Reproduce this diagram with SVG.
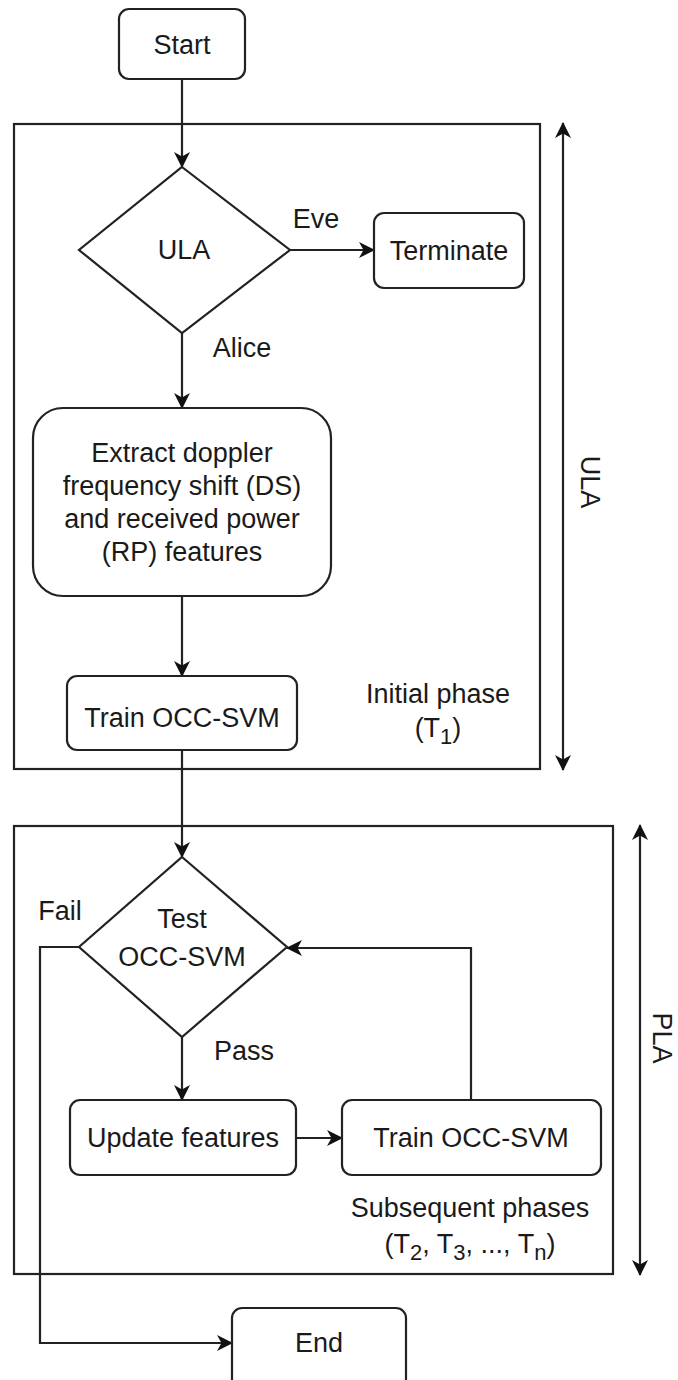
<svg xmlns="http://www.w3.org/2000/svg" width="678" height="1380" viewBox="0 0 678 1380">
  <defs>
    <marker id="arrow" viewBox="0 0 16 16" refX="15" refY="8" markerWidth="16" markerHeight="16" markerUnits="userSpaceOnUse" orient="auto-start-reverse">
      <path d="M0,0 L16,8 L0,16 L4.5,8 z" fill="#111"/>
    </marker>
    <style>
      .box { fill: #fff; stroke: #222; stroke-width: 2.2; }
      .frame { fill: none; stroke: #222; stroke-width: 2.2; }
      .edge { fill: none; stroke: #222; stroke-width: 2.2; }
      .arr { marker-end: url(#arrow); }
      .both { marker-start: url(#arrow); marker-end: url(#arrow); }
      text { font-family: "Liberation Sans", Arial, sans-serif; font-size: 27px; fill: #1a1a1a; }
      .c { text-anchor: middle; }
      .sub { font-size: 22px; }
    </style>
  </defs>

  <!-- phase frames -->
  <g id="frame-initial">
    <rect class="frame" x="14" y="124" width="526" height="645"/>
    <text class="c" x="438" y="703">Initial phase</text>
    <text class="c" x="438" y="737">(T<tspan class="sub" dy="7">1</tspan><tspan dy="-7">)</tspan></text>
  </g>
  <g id="frame-subsequent">
    <rect class="frame" x="14" y="826" width="599" height="448"/>
    <text class="c" x="470" y="1217">Subsequent phases</text>
    <text class="c" x="470" y="1253">(T<tspan class="sub" dy="7">2</tspan><tspan dy="-7">, T</tspan><tspan class="sub" dy="7">3</tspan><tspan dy="-7">, ..., T</tspan><tspan class="sub" dy="7">n</tspan><tspan dy="-7">)</tspan></text>
  </g>

  <!-- span indicators -->
  <g id="span-ula">
    <line class="edge both" x1="563" y1="123" x2="563" y2="770"/>
    <text class="c" transform="translate(581,482) rotate(90)">ULA</text>
  </g>
  <g id="span-pla">
    <line class="edge both" x1="640" y1="825" x2="640" y2="1275"/>
    <text class="c" transform="translate(653,1038) rotate(90)">PLA</text>
  </g>

  <!-- connectors -->
  <g id="connectors">
    <line class="edge arr" x1="182" y1="79" x2="182" y2="167"/>
    <line class="edge arr" x1="290" y1="250" x2="374" y2="250"/>
    <line class="edge arr" x1="182" y1="333" x2="182" y2="408"/>
    <line class="edge arr" x1="182" y1="596" x2="182" y2="676"/>
    <line class="edge arr" x1="182" y1="750" x2="182" y2="857"/>
    <line class="edge arr" x1="182" y1="1037" x2="182" y2="1100"/>
    <line class="edge arr" x1="296" y1="1138" x2="342" y2="1138"/>
    <polyline class="edge arr" points="471,1100 471,948 287,948"/>
    <polyline class="edge arr" points="79,947 40,947 40,1343 232,1343"/>
    <text x="316" y="228" class="c">Eve</text>
    <text x="242" y="357" class="c">Alice</text>
    <text x="60" y="920" class="c">Fail</text>
    <text x="244" y="1060" class="c">Pass</text>
  </g>

  <!-- nodes -->
  <g id="start">
    <rect class="box" x="119" y="9" width="126" height="70" rx="10"/>
    <text class="c" x="182" y="54">Start</text>
  </g>
  <g id="ula-check">
    <polygon class="box" points="182,167 290,250 182,333 79,250"/>
    <text class="c" x="184" y="259">ULA</text>
  </g>
  <g id="terminate">
    <rect class="box" x="374" y="213" width="150" height="75" rx="10"/>
    <text class="c" x="449" y="260">Terminate</text>
  </g>
  <g id="extract">
    <rect class="box" x="33" y="408" width="298" height="188" rx="30"/>
    <text class="c" x="182" y="462">Extract doppler</text>
    <text class="c" x="182" y="495">frequency shift (DS)</text>
    <text class="c" x="182" y="528">and received power</text>
    <text class="c" x="182" y="561">(RP) features</text>
  </g>
  <g id="train-initial">
    <rect class="box" x="67" y="676" width="230" height="74" rx="10"/>
    <text class="c" x="182" y="727">Train OCC-SVM</text>
  </g>
  <g id="test">
    <polygon class="box" points="182,857 287,947 182,1037 79,947"/>
    <text class="c" x="182" y="928">Test</text>
    <text class="c" x="182" y="966">OCC-SVM</text>
  </g>
  <g id="update">
    <rect class="box" x="70" y="1100" width="226" height="75" rx="10"/>
    <text class="c" x="183" y="1147">Update features</text>
  </g>
  <g id="train-subsequent">
    <rect class="box" x="342" y="1100" width="259" height="75" rx="10"/>
    <text class="c" x="471" y="1147">Train OCC-SVM</text>
  </g>
  <g id="end">
    <rect class="box" x="232" y="1308" width="174" height="90" rx="10"/>
    <text class="c" x="319" y="1352">End</text>
  </g>
</svg>
